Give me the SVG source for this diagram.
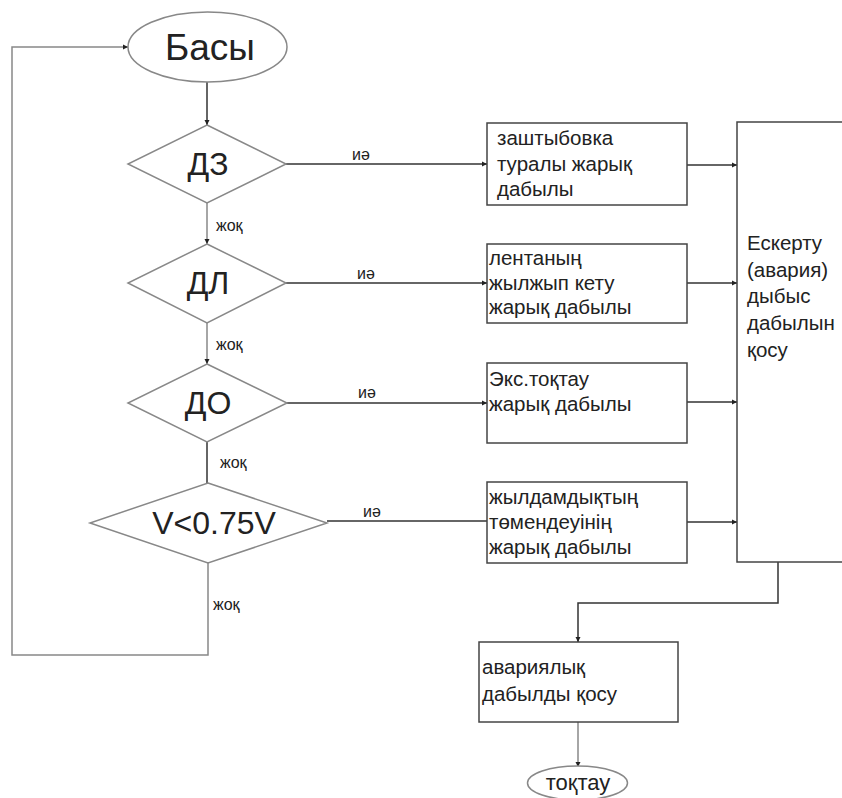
<svg xmlns="http://www.w3.org/2000/svg" width="842" height="798" viewBox="0 0 842 798">
<defs>
<marker id="ah" markerWidth="6" markerHeight="6" refX="5" refY="3" orient="auto" markerUnits="userSpaceOnUse">
<path d="M0,0.5 L5,3 L0,5.5 Z" fill="#222"/>
</marker>
<style>
.t{font-family:"Liberation Sans",Arial,sans-serif;fill:#222}
.big{font-size:37px}
.dia{font-size:32px}
.box{font-size:20.5px}
.lbl{font-size:16px}
.sh{fill:#fff;stroke:#444;stroke-width:1.5}
.dm{fill:#fff;stroke:#888;stroke-width:1.5}
.ln{fill:none;stroke:#333;stroke-width:1.5}
.lg{fill:none;stroke:#888;stroke-width:1.5}
</style>
</defs>
<rect width="842" height="798" fill="#fff"/>
<g id="connectors">
<path class="ln" d="M207,82 V125" marker-end="url(#ah)"/>
<path class="lg" d="M207,203 V244" marker-end="url(#ah)"/>
<path class="lg" d="M207,323 V364" marker-end="url(#ah)"/>
<path class="ln" d="M207,442 V483"/>
<path class="lg" d="M208,563 V655 H12 V47 H128" marker-end="url(#ah)"/>
<path class="ln" d="M286,164 H487" marker-end="url(#ah)"/>
<path class="ln" d="M286,283 H487" marker-end="url(#ah)"/>
<path class="ln" d="M287,403 H487" marker-end="url(#ah)"/>
<path class="ln" d="M327,521 H487"/>
<path class="ln" d="M687,165 H737" marker-end="url(#ah)"/>
<path class="ln" d="M687,283 H737" marker-end="url(#ah)"/>
<path class="ln" d="M687,402 H737" marker-end="url(#ah)"/>
<path class="ln" d="M687,522 H737" marker-end="url(#ah)"/>
<path class="ln" d="M778,562 V603 H578 V642" marker-end="url(#ah)"/>
<path class="lg" d="M578,722 V767" marker-end="url(#ah)"/>
<text class="t lbl" x="352" y="160">иә</text>
<text class="t lbl" x="357" y="279">иә</text>
<text class="t lbl" x="358" y="398">иә</text>
<text class="t lbl" x="363" y="517">иә</text>
<text class="t lbl" x="216" y="231">жоқ</text>
<text class="t lbl" x="216" y="350">жоқ</text>
<text class="t lbl" x="220" y="468">жоқ</text>
<text class="t lbl" x="213" y="610">жоқ</text>
</g>
<g id="start">
<ellipse class="dm" cx="207.5" cy="47" rx="79.5" ry="35"/>
<text class="t big" x="210" y="60" text-anchor="middle">Басы</text>
</g>
<g id="dz">
<polygon class="dm" points="207,125 286,164 207,203 128,164"/>
<text class="t dia" x="208" y="175" text-anchor="middle">ДЗ</text>
</g>
<g id="dl">
<polygon class="dm" points="207,244 286,283 207,323 128,283"/>
<text class="t dia" x="208" y="294" text-anchor="middle">ДЛ</text>
</g>
<g id="do">
<polygon class="dm" points="207,364 287,403 207,442 128,403"/>
<text class="t dia" x="208" y="414" text-anchor="middle">ДО</text>
</g>
<g id="v">
<polygon class="dm" points="208,483 327,523 208,563 90,523"/>
<text class="t dia" x="214" y="534" text-anchor="middle">V&lt;0.75V</text>
</g>
<g id="box1">
<rect class="sh" x="487" y="123" width="200" height="82"/>
<text class="t box"><tspan x="497" y="145">заштыбовка</tspan><tspan x="497" y="171">туралы жарық</tspan><tspan x="497" y="196">дабылы</tspan></text>
</g>
<g id="box2">
<rect class="sh" x="487" y="244" width="200" height="79"/>
<text class="t box"><tspan x="489" y="265">лентаның</tspan><tspan x="489" y="290">жылжып кету</tspan><tspan x="489" y="314">жарық дабылы</tspan></text>
</g>
<g id="box3">
<rect class="sh" x="487" y="363" width="200" height="80"/>
<text class="t box"><tspan x="489" y="386">Экс.тоқтау</tspan><tspan x="489" y="411">жарық дабылы</tspan></text>
</g>
<g id="box4">
<rect class="sh" x="487" y="482" width="200" height="81"/>
<text class="t box"><tspan x="489" y="504">жылдамдықтың</tspan><tspan x="489" y="529">төмендеуінің</tspan><tspan x="489" y="554">жарық дабылы</tspan></text>
</g>
<g id="alarm">
<rect class="sh" x="737" y="122" width="130" height="440"/>
<text class="t box"><tspan x="747" y="250">Ескерту</tspan><tspan x="747" y="277">(авария)</tspan><tspan x="747" y="303">дыбыс</tspan><tspan x="747" y="330">дабылын</tspan><tspan x="747" y="357">қосу</tspan></text>
</g>
<g id="box5">
<rect class="sh" x="479" y="642" width="199" height="80"/>
<text class="t box"><tspan x="482" y="674">авариялық</tspan><tspan x="482" y="701">дабылды қосу</tspan></text>
</g>
<g id="stop">
<ellipse class="dm" cx="577.5" cy="783" rx="50" ry="17"/>
<text class="t" style="font-size:22px" x="578" y="790" text-anchor="middle">тоқтау</text>
</g>
</svg>
